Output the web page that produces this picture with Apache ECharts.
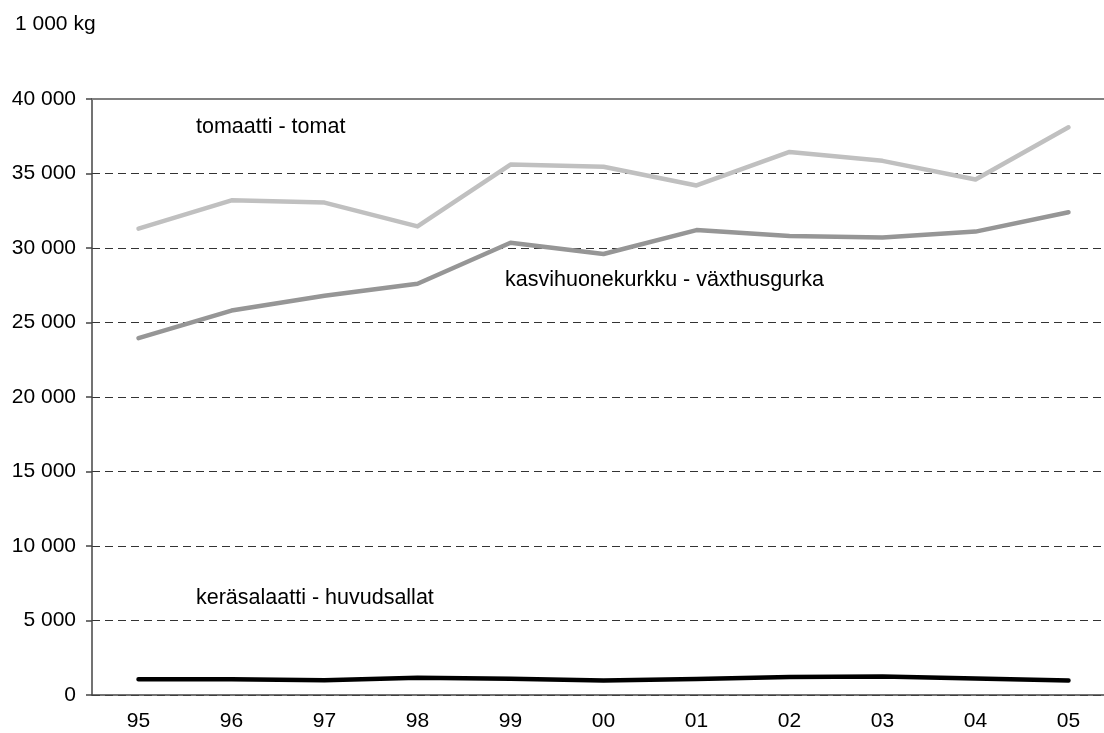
<!DOCTYPE html>
<html>
<head>
<meta charset="utf-8">
<script src="https://cdn.jsdelivr.net/npm/echarts@6/dist/echarts.min.js"></script>
<style>
  html, body { margin: 0; padding: 0; background: #fff; overflow: hidden; }
  #chart { width: 1104px; height: 733px; }
</style>
</head>
<body>
<div id="chart"></div>
<script>
// Vuodet / år
const years = ['95', '96', '97', '98', '99', '00', '01', '02', '03', '04', '05']

// 1 000 kg
const tomato = [31300, 33200, 33050, 31450, 35600, 35450, 34200, 36450, 35850, 34600, 38100]
const cucumber = [23950, 25800, 26800, 27600, 30350, 29600, 31200, 30800, 30700, 31100, 32400]
const lettuce = [1050, 1050, 990, 1150, 1090, 980, 1070, 1210, 1240, 1110, 980]

const seriesNames = ['tomaatti - tomat', 'kasvihuonekurkku - växthusgurka', 'keräsalaatti - huvudsallat']
const unitLabel = '1 000 kg'

const font = 'Liberation Sans, Arial, sans-serif'

// 40000 -> "40 000"
const fmt = (v) => String(v).replace(/\B(?=(\d{3})+(?!\d))/g, ' ')

const chart = echarts.init(document.getElementById('chart'))

const lineSeries = (name, data, color) => ({
  name,
  type: 'line',
  data,
  symbol: 'none',
  silent: true,
  lineStyle: { color, width: 4.5, cap: 'round', join: 'round' },
})

const option = {
  animation: false,
  backgroundColor: '#fff',
  textStyle: { fontFamily: font },
  grid: {
    left: 92,
    top: 99,
    width: 1023,
    height: 596,
    outerBoundsMode: 'none',
    containLabel: false,
  },
  xAxis: [
    {
      type: 'category',
      data: years,
      boundaryGap: true,
      axisLine: { lineStyle: { color: '#444', width: 1.5 } },
      axisTick: { length: 6, lineStyle: { color: '#444', width: 1.5 } },
      axisLabel: { color: '#000', fontSize: 21, margin: 16, fontFamily: font },
    },
    {
      // yläreuna / övre kant
      type: 'category',
      data: years,
      position: 'top',
      axisLine: { show: true, lineStyle: { color: '#808080', width: 2 } },
      axisTick: { show: false },
      axisLabel: { show: false },
      splitLine: { show: false },
    },
  ],
  yAxis: {
    type: 'value',
    min: 0,
    max: 40000,
    interval: 5000,
    axisLine: { show: true, lineStyle: { color: '#444', width: 1.5 } },
    axisTick: { show: true, length: 6, lineStyle: { color: '#444', width: 1.5 } },
    axisLabel: { color: '#000', fontSize: 21, margin: 16, fontFamily: font, formatter: fmt },
    splitLine: { show: true, lineStyle: { color: '#333', width: 1, type: [8, 5] } },
  },
  graphic: [
    { type: 'text', left: 15, top: 14, style: { text: unitLabel, font: '21px ' + font, fill: '#000' } },
    { type: 'text', x: 196, y: 127, style: { text: seriesNames[0], font: '21.5px ' + font, fill: '#000', verticalAlign: 'middle' } },
    { type: 'text', x: 505, y: 280, style: { text: seriesNames[1], font: '21.5px ' + font, fill: '#000', verticalAlign: 'middle' } },
    { type: 'text', x: 196, y: 598, style: { text: seriesNames[2], font: '21.5px ' + font, fill: '#000', verticalAlign: 'middle' } },
  ],
  series: [
    lineSeries(seriesNames[0], tomato, '#c0c0c0'),
    lineSeries(seriesNames[1], cucumber, '#969696'),
    lineSeries(seriesNames[2], lettuce, '#000000'),
  ],
}

chart.setOption(option)
</script>
</body>
</html>
